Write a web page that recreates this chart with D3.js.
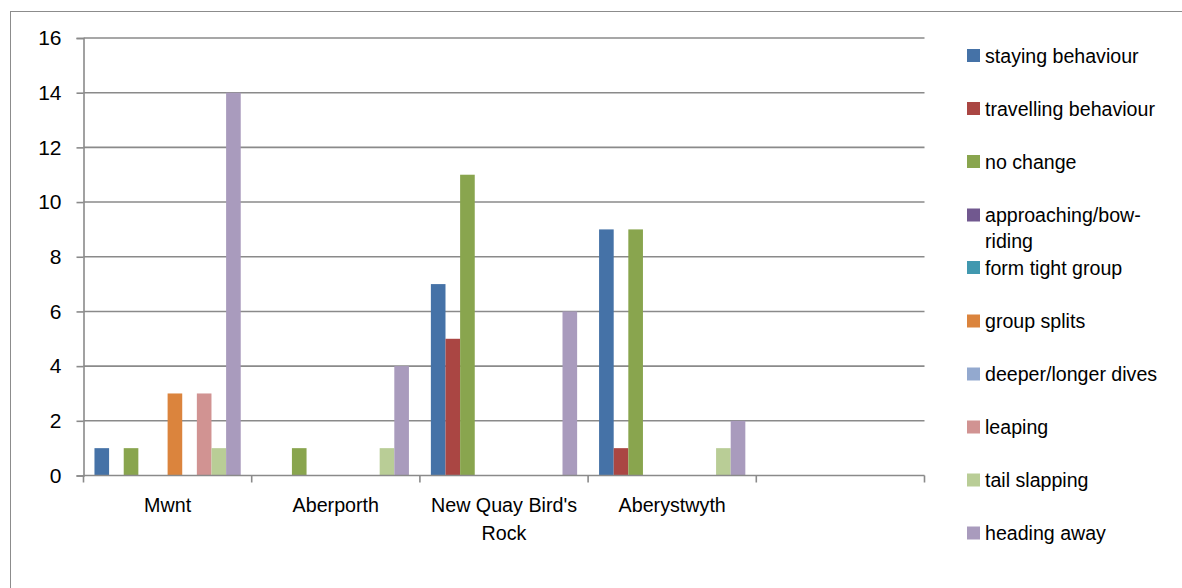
<!DOCTYPE html>
<html>
<head>
<meta charset="utf-8">
<script src="https://cdn.jsdelivr.net/npm/d3@7"></script>
<style>
  html, body { margin: 0; padding: 0; background: #fff; }
  svg { display: block; }
  text { font-family: "Liberation Sans", Arial, sans-serif; fill: #000; }
</style>
</head>
<body>
<svg id="chart" width="1182" height="588"></svg>
<script>
const categories = ["Mwnt", "Aberporth", "New Quay Bird's Rock", "Aberystwyth", ""];
const seriesNames = ["staying behaviour", "travelling behaviour", "no change", "approaching/bow-riding",
  "form tight group", "group splits", "deeper/longer dives", "leaping", "tail slapping", "heading away"];
const legendLabels = [["staying behaviour"], ["travelling behaviour"], ["no change"], ["approaching/bow-", "riding"],
  ["form tight group"], ["group splits"], ["deeper/longer dives"], ["leaping"], ["tail slapping"], ["heading away"]];
const colors = ["#4572A7", "#AA4643", "#89A54E", "#71588F", "#4198AF", "#DB843D", "#93A9CF", "#D19392", "#B9CD96", "#A99BBD"];
const staying    = [1, 0, 7, 9, 0];
const travelling = [0, 0, 5, 1, 0];
const noChange   = [1, 1, 11, 9, 0];
const approaching = [0, 0, 0, 0, 0];
const tightGroup = [0, 0, 0, 0, 0];
const groupSplits = [3, 0, 0, 0, 0];
const deeperDives = [0, 0, 0, 0, 0];
const leaping    = [3, 0, 0, 0, 0];
const tailSlapping = [1, 1, 0, 1, 0];
const headingAway = [14, 4, 6, 2, 0];
const yTicks = [0, 2, 4, 6, 8, 10, 12, 14, 16];

const seriesValues = [staying, travelling, noChange, approaching, tightGroup, groupSplits, deeperDives, leaping, tailSlapping, headingAway];

const svg = d3.select("#chart");
const mLeft = 83.5, mRight = 924.5, mTop = 38, mBottom = 475.5;

// outer frame
svg.append("rect").attr("x", 10.5).attr("y", 11.5).attr("width", 1300).attr("height", 700)
  .attr("fill", "none").attr("stroke", "#8c8c8c").attr("stroke-width", 1);

const x = d3.scaleBand().domain(d3.range(categories.length)).range([mLeft, mRight]).paddingInner(0).paddingOuter(0);
const xs = d3.scaleBand().domain(d3.range(seriesNames.length)).range([0, x.bandwidth()]).paddingInner(0).paddingOuter(0.75);
const y = d3.scaleLinear().domain([0, 16]).range([mBottom, mTop]);

// gridlines
svg.append("g").selectAll("line").data(yTicks.filter(d => d > 0)).join("line")
  .attr("x1", mLeft).attr("x2", mRight).attr("y1", d => y(d)).attr("y2", d => y(d))
  .attr("stroke", "#8a8a8a").attr("stroke-width", 1.6);

// bars
seriesValues.forEach((vals, si) => {
  svg.append("g").selectAll("rect").data(vals.map((v, ci) => ({v, ci})).filter(d => d.v > 0)).join("rect")
    .attr("x", d => x(d.ci) + xs(si))
    .attr("width", xs.bandwidth())
    .attr("y", d => y(d.v))
    .attr("height", d => y(0) - y(d.v))
    .attr("fill", colors[si]);
});

// y axis
const yAxis = d3.axisLeft(y).tickValues(yTicks).tickSize(7).tickPadding(15).tickFormat(d3.format("d"));
const gy = svg.append("g").attr("transform", `translate(${mLeft},0)`).call(yAxis);
gy.select(".domain").attr("stroke", "#8a8a8a").attr("stroke-width", 1.6);
gy.selectAll(".tick line").attr("stroke", "#8a8a8a").attr("stroke-width", 1.6);
gy.selectAll(".tick text").attr("font-size", 21).attr("font-family", "'Open Sans', 'Liberation Sans', sans-serif").attr("fill", "#000");

// x axis
const xAxis = d3.axisBottom(x).tickSize(0).tickFormat("");
const gx = svg.append("g").attr("transform", `translate(0,${mBottom})`).call(xAxis);
gx.select(".domain").attr("stroke", "#8a8a8a").attr("stroke-width", 1.6).attr("d", `M${mLeft},0H${mRight}`);
gx.selectAll(".tick").remove();
const boundaries = d3.range(categories.length + 1).map(i => i < categories.length ? x(i) : x(categories.length - 1) + x.bandwidth());
gx.selectAll("line.cb").data(boundaries).join("line").attr("class", "cb")
  .attr("x1", d => d).attr("x2", d => d).attr("y1", 0).attr("y2", 7)
  .attr("stroke", "#8a8a8a").attr("stroke-width", 1.6);

// category labels (wrapped)
function wrapLabel(s) {
  if (s === "New Quay Bird's Rock") return ["New Quay Bird's", "Rock"];
  return [s];
}
categories.forEach((c, i) => {
  const lines = wrapLabel(c);
  const t = svg.append("text").attr("x", x(i) + x.bandwidth() / 2).attr("y", 512)
    .attr("text-anchor", "middle").attr("font-size", 19.7);
  lines.forEach((l, j) => t.append("tspan").attr("x", x(i) + x.bandwidth() / 2).attr("dy", j === 0 ? 0 : 28).text(l));
});

// legend
const legY = [55.5, 108.5, 161.5, 215, 267.5, 321, 374, 427, 480, 533];
const lg = svg.append("g");
legendLabels.forEach((lines, i) => {
  lg.append("rect").attr("x", 967).attr("y", legY[i] - 6.5).attr("width", 13).attr("height", 13).attr("fill", colors[i]);
  const t = lg.append("text").attr("x", 985).attr("y", legY[i] + 7).attr("font-size", 19.6);
  lines.forEach((l, j) => t.append("tspan").attr("x", 985).attr("dy", j === 0 ? 0 : 26).text(l));
});
</script>
</body>
</html>
